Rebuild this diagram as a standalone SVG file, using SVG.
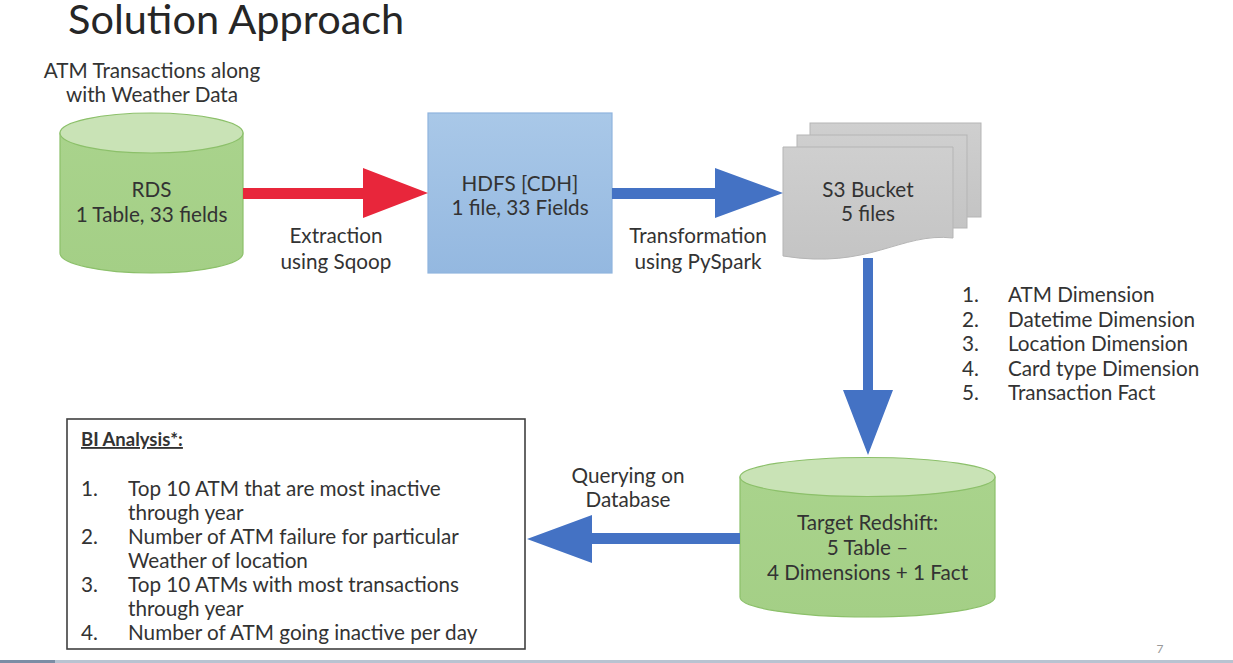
<svg xmlns="http://www.w3.org/2000/svg" width="1233" height="663" viewBox="0 0 1233 663">
<defs>
<linearGradient id="gGreen" x1="0" y1="0" x2="0" y2="1"><stop offset="0" stop-color="#a9d38c"/><stop offset="1" stop-color="#a4cf86"/></linearGradient>
<linearGradient id="gBlue" x1="0" y1="0" x2="0" y2="1"><stop offset="0" stop-color="#a9c8e8"/><stop offset="1" stop-color="#94b8e0"/></linearGradient>
<linearGradient id="gGray" x1="0" y1="0" x2="0" y2="1"><stop offset="0" stop-color="#cfcfcf"/><stop offset="1" stop-color="#c4c4c4"/></linearGradient>
<style>
text{font-family:Lato,"Open Sans","Liberation Sans",sans-serif;fill:#333333}
.t20{font-size:20.7px}
.mid{text-anchor:middle}
.cyl{fill:url(#gGreen);stroke:#8cc06a;stroke-width:1.2}
.cyltop{fill:#c9e3b6;stroke:#8cc06a;stroke-width:1.2}
.doc{fill:url(#gGray);stroke:#b5b5b5;stroke-width:1}
.blue{fill:#4472c4}
.red{fill:#e8263b}
</style>
</defs>
<rect width="1233" height="663" fill="#ffffff"/>
<text x="68" y="34" style="font-size:41.5px;fill:#262626">Solution Approach</text>

<g id="rds">
<text x="152" y="78" class="t20 mid">ATM Transactions along</text>
<text x="152" y="102" class="t20 mid">with Weather Data</text>
<path class="cyl" d="M60,133 L60,253 A91.5,20 0 0 0 243,253 L243,133 Z"/>
<ellipse class="cyltop" cx="151.5" cy="133" rx="91.5" ry="20"/>
<text x="151.5" y="197" class="t20 mid">RDS</text>
<text x="151.5" y="222" class="t20 mid">1 Table, 33 fields</text>
</g>

<g id="hdfs">
<rect x="428" y="113" width="184" height="160" fill="url(#gBlue)" stroke="#8fb4de" stroke-width="1.2"/>
<text x="520" y="191" class="t20 mid">HDFS [CDH]</text>
<text x="520" y="215" class="t20 mid">1 file, 33 Fields</text>
</g>

<g id="s3">
<rect class="doc" x="810" y="123" width="171" height="94"/>
<rect class="doc" x="797" y="135" width="170" height="93"/>
<path class="doc" d="M783,147 L953,147 L953,238 C900,232 870,270 783,256 Z"/>
<text x="868" y="197" class="t20 mid">S3 Bucket</text>
<text x="868" y="221" class="t20 mid">5 files</text>
</g>

<g id="list">
<text x="962" y="302" class="t20">1.</text><text x="1008" y="302" class="t20">ATM Dimension</text>
<text x="962" y="327" class="t20">2.</text><text x="1008" y="327" class="t20">Datetime Dimension</text>
<text x="962" y="351" class="t20">3.</text><text x="1008" y="351" class="t20">Location Dimension</text>
<text x="962" y="376" class="t20">4.</text><text x="1008" y="376" class="t20">Card type Dimension</text>
<text x="962" y="400" class="t20">5.</text><text x="1008" y="400" class="t20">Transaction Fact</text>
</g>

<g id="redshift">
<path class="cyl" d="M740,477 L740,597 A127.5,20 0 0 0 995,597 L995,477 Z"/>
<ellipse class="cyltop" cx="867.5" cy="477" rx="127.5" ry="19.5"/>
<text x="867.5" y="530" class="t20 mid">Target Redshift:</text>
<text x="867.5" y="555" class="t20 mid">5 Table –</text>
<text x="867.5" y="580" class="t20 mid">4 Dimensions + 1 Fact</text>
</g>

<g id="bi">
<rect x="67" y="419" width="458" height="230" fill="#ffffff" stroke="#404040" stroke-width="1.6"/>
<text x="81" y="446" style="font-size:18.5px;font-weight:bold;text-decoration:underline">BI Analysis*:</text>
<text x="81" y="496" class="t20">1.</text><text x="128" y="496" class="t20">Top 10 ATM that are most inactive</text>
<text x="128" y="520" class="t20">through year</text>
<text x="81" y="544" class="t20">2.</text><text x="128" y="544" class="t20">Number of ATM failure for particular</text>
<text x="128" y="568" class="t20">Weather of location</text>
<text x="81" y="592" class="t20">3.</text><text x="128" y="592" class="t20">Top 10 ATMs with most transactions</text>
<text x="128" y="616" class="t20">through year</text>
<text x="81" y="640" class="t20">4.</text><text x="128" y="640" class="t20">Number of ATM going inactive per day</text>
</g>

<g id="connectors">
<polygon class="red" points="243,188 363,188 363,168 428,193 363,218 363,199 243,199"/>
<polygon class="blue" points="612,188 715,188 715,168 783,193 715,218 715,199 612,199"/>
<polygon class="blue" points="863,258 873,258 873,390 893,390 868,455 843,390 863,390"/>
<polygon class="blue" points="740,533 592,533 592,515 527,539 592,563 592,544 740,544"/>
<text x="336" y="243" class="t20 mid">Extraction</text>
<text x="336" y="269" class="t20 mid">using Sqoop</text>
<text x="698" y="243" class="t20 mid">Transformation</text>
<text x="698" y="269" class="t20 mid">using PySpark</text>
<text x="628" y="483" class="t20 mid">Querying on</text>
<text x="628" y="507" class="t20 mid">Database</text>
</g>

<text x="1160" y="653" style="font-size:12px;fill:#9a9a9a" class="mid">7</text>
<rect x="0" y="660" width="1233" height="3" fill="#b8c3d1"/>
<rect x="0" y="660" width="55" height="3" fill="#7b8da5"/>
</svg>
